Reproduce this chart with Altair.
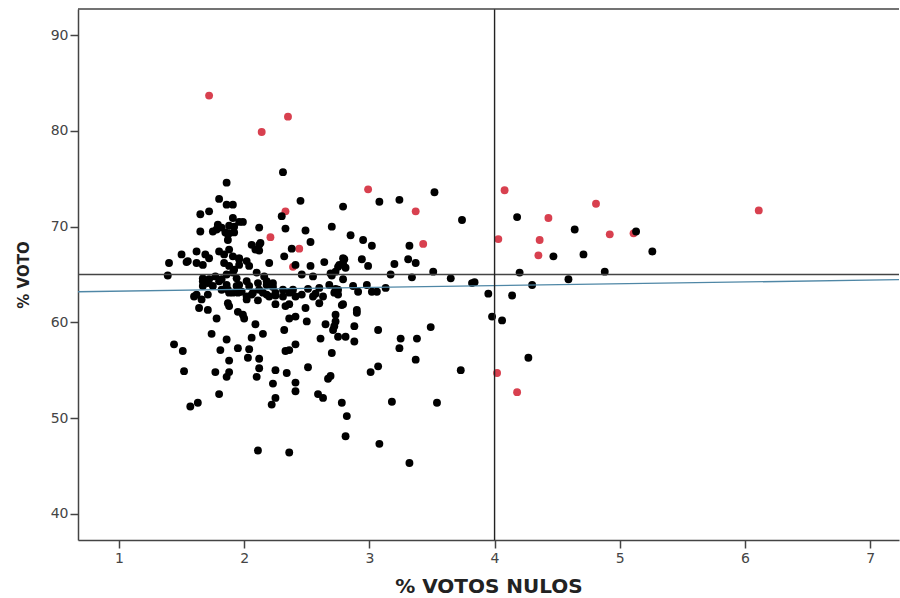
import altair as alt
import pandas as pd

# ---- data ----
black_pts = [
    (2.31,75.7),(1.86,74.6),(1.80,72.9),(1.86,72.3),(1.91,72.3),(1.65,71.3),(1.72,71.6),(2.45,72.7),(2.79,72.1),(2.30,71.1),
    (1.91,70.9),(1.96,70.5),(1.99,70.5),(1.88,70.1),(1.92,70.0),(2.12,69.9),(2.33,69.8),(2.49,69.6),(2.70,70.0),(1.65,69.5),
    (1.75,69.5),(1.78,69.7),(1.82,69.9),(1.85,69.4),(1.88,69.3),(1.92,69.4),(1.87,68.6),(2.53,68.4),(2.06,68.1),(2.12,68.1),
    (2.09,67.6),(2.38,67.7),(2.32,66.9),(1.50,67.1),(1.62,67.4),(1.69,67.1),(1.72,66.7),(1.40,66.2),(1.54,66.3),(1.62,66.2),
    (1.67,66.0),(1.80,67.4),(1.84,67.1),(1.88,67.6),(1.91,66.9),(1.96,66.6),(2.02,66.4),(2.04,65.9),(2.20,66.2),(2.41,66.0),
    (2.53,65.9),(2.64,66.3),(2.76,66.0),(2.80,66.6),(2.81,65.7),(1.39,64.9),(1.67,64.6),(1.72,64.5),(1.77,64.8),(1.82,64.5),
    (1.86,65.0),(1.91,65.2),(1.94,64.6),(2.10,65.2),(2.16,64.8),(2.18,64.3),(2.46,65.0),(2.55,64.8),(2.70,64.9),(2.73,65.3),
    (1.67,63.8),(1.75,63.8),(1.86,63.9),(1.94,63.8),(2.02,64.3),(2.04,63.8),(2.12,63.4),(2.23,63.7),(2.31,63.4),(2.39,63.4),
    (2.51,63.5),(2.60,63.6),(2.68,63.9),(2.74,63.1),
    (1.62,62.9),(1.71,62.9),(1.82,63.4),(1.91,63.1),(2.02,62.7),(2.07,63.1),(2.20,62.7),(2.31,62.7),(2.41,62.7),(2.55,62.7),(2.63,62.7),
    (1.79,70.2),(1.87,69.2),(1.96,66.7),(1.84,66.2),(1.88,65.9),(1.92,65.5),(1.96,66.0),(2.12,67.5),(2.13,68.3),(1.55,66.4),
    (1.71,64.1),(1.96,63.9),(2.11,64.1),(2.23,64.1),(2.18,63.9),
    (1.67,64.3),(1.80,64.3),(1.87,63.4),(1.98,63.2),(2.15,63.1),(2.25,62.8),(2.36,63.1),(2.46,62.9),(2.57,63.0),
    (1.88,63.1),(1.95,63.1),(2.06,62.9),(2.18,62.9),(2.25,63.1),(2.75,63.4),
    (1.60,62.7),(1.66,62.4),(1.87,62.0),(1.88,61.7),(2.02,62.4),(2.11,62.3),(2.25,61.9),(2.33,61.7),(2.36,61.9),(2.49,61.5),
    (2.60,62.0),(2.72,63.1),(2.79,61.9),
    (1.64,61.5),(1.71,61.3),(1.95,61.1),(1.99,60.8),(2.00,60.4),(1.78,60.4),(2.36,60.4),(2.41,60.6),(2.50,60.1),(2.65,59.8),
    (2.73,60.8),(2.73,60.1),(2.72,59.6),(2.71,59.2),(2.09,59.8),(2.32,59.2),
    (1.74,58.8),(1.86,58.2),(2.06,58.4),(2.15,58.8),(2.61,58.3),(2.75,58.5),(2.81,58.5),(1.44,57.7),(1.51,57.0),(1.81,57.1),
    (1.95,57.3),(2.04,57.2),(2.33,57.0),(2.36,57.1),(2.41,57.7),(2.70,56.8),
    (1.88,56.0),(2.03,56.3),(2.12,56.2),(1.52,54.9),(1.77,54.8),(1.88,54.8),(1.86,54.3),(2.12,55.2),(2.10,54.3),(2.25,55.0),
    (2.34,54.7),(2.51,55.3),(2.67,54.1),(2.69,54.4),
    (2.23,53.6),(2.41,53.7),(2.41,52.8),(1.80,52.5),(2.59,52.5),(2.63,52.1),(2.25,52.1),(2.22,51.4),(1.57,51.2),(1.63,51.6),
    (2.11,46.6),(2.36,46.4),
    (3.08,72.6),(3.24,72.8),(3.52,73.6),(3.74,70.7),(4.18,71.0),(2.85,69.1),(2.95,68.6),(3.02,68.0),(3.32,68.0),(2.79,66.7),
    (2.79,66.1),(2.75,65.8),(2.94,66.6),(2.99,65.9),(3.20,66.1),(3.31,66.6),(3.37,66.2),(3.51,65.3),(2.69,65.1),(3.17,65.0),
    (3.34,64.7),(3.65,64.6),(4.20,65.2),(2.79,64.5),(2.87,63.8),(2.98,63.9),(3.13,63.6),(3.02,63.2),(3.06,63.2),(2.73,63.5),
    (2.75,62.9),(2.91,63.2),(3.82,64.1),(3.84,64.2),(3.95,63.0),(4.14,62.8),
    (2.78,61.8),(2.90,61.3),(2.90,61.0),(2.88,59.6),(3.07,59.2),(3.49,59.5),(2.88,58.0),(3.25,58.3),(3.38,58.3),(3.24,57.3),
    (3.37,56.1),(3.07,55.4),(3.01,54.8),(3.73,55.0),(2.78,51.6),(3.18,51.7),(3.54,51.6),(2.82,50.2),(2.81,48.1),(3.08,47.3),
    (3.32,45.3),(4.27,56.3),(3.98,60.6),(4.06,60.2),
    (4.64,69.7),(4.47,66.9),(4.71,67.1),(5.26,67.4),(5.13,69.5),(4.88,65.3),(4.59,64.5),(4.30,63.9),
]
black_x = [p[0] for p in black_pts]
black_y = [p[1] for p in black_pts]

red_x = [1.72, 2.14, 2.35, 2.33, 2.21, 2.44, 2.39, 2.99, 3.37, 3.43, 4.08, 4.03, 4.02, 4.18,
         4.43, 4.36, 4.35, 4.81, 4.92, 5.11, 6.11]
red_y = [83.7, 79.9, 81.5, 71.6, 68.9, 67.7, 65.8, 73.9, 71.6, 68.2, 73.8, 68.7, 54.7, 52.7,
         70.9, 68.6, 67.0, 72.4, 69.2, 69.3, 71.7]

ref_x = [4.0]          # vertical reference line
ref_y = [65.0]         # horizontal reference line
fit_x = [0.673, 7.23]  # fitted line ends
fit_y = [63.2, 64.46]

x_ticks = [1, 2, 3, 4, 5, 6, 7]
y_ticks = [40, 50, 60, 70, 80, 90]
x_dom = [0.673, 7.23]
y_dom = [37.25, 92.75]

df_black = pd.DataFrame({"x": black_x, "y": black_y})
df_red = pd.DataFrame({"x": red_x, "y": red_y})
df_fit = pd.DataFrame({"x": fit_x, "y": fit_y})
df_v = pd.DataFrame({"x": ref_x})
df_h = pd.DataFrame({"y": ref_y})

FONT = "DejaVu Sans"
xs = alt.Scale(domain=x_dom, nice=False, zero=False)
ys = alt.Scale(domain=y_dom, nice=False, zero=False)

xax = alt.Axis(values=x_ticks, grid=False, title="% VOTOS NULOS", tickSize=8,
               labelPadding=3, titlePadding=11, format="d", titleFontSize=20)
yax = alt.Axis(values=y_ticks, grid=False, title="% VOTO", tickSize=8,
               labelPadding=2, titlePadding=19, format="d", titleFontSize=15)

black = alt.Chart(df_black).mark_circle(size=62, opacity=1, color="#000000").encode(
    x=alt.X("x:Q", scale=xs, axis=xax), y=alt.Y("y:Q", scale=ys, axis=yax))
red = alt.Chart(df_red).mark_circle(size=62, opacity=1, color="#d8404f").encode(
    x=alt.X("x:Q", scale=xs), y=alt.Y("y:Q", scale=ys))
fit = alt.Chart(df_fit).mark_line(color="#4f87a6", strokeWidth=1.4).encode(
    x=alt.X("x:Q", scale=xs), y=alt.Y("y:Q", scale=ys))
vline = alt.Chart(df_v).mark_rule(color="#222222", strokeWidth=1.4).encode(
    x=alt.X("x:Q", scale=xs))
hline = alt.Chart(df_h).mark_rule(color="#444444", strokeWidth=1.4).encode(
    y=alt.Y("y:Q", scale=ys))
frame = alt.Chart(df_h).mark_rule(color="#444444", strokeWidth=1.5).encode(
    x=alt.value(0), x2=alt.value(821), y=alt.value(0))

chart = alt.layer(red, black, fit, hline, vline, frame).properties(
    width=821, height=531,
    autosize=alt.AutoSizeParams(type="none"),
    padding={"left": 78, "top": 9, "right": 1, "bottom": 58},
    background="white",
).configure_view(stroke=None).configure_axis(
    domainColor="#444444", domainWidth=1.5, tickColor="#444444", tickWidth=1.5,
    labelFont=FONT, labelFontSize=14, labelColor="#444444",
    titleFont=FONT, titleFontWeight="bold", titleColor="#222222",
)

chart.save("out.html", embed_options={"renderer": "svg", "actions": False})
